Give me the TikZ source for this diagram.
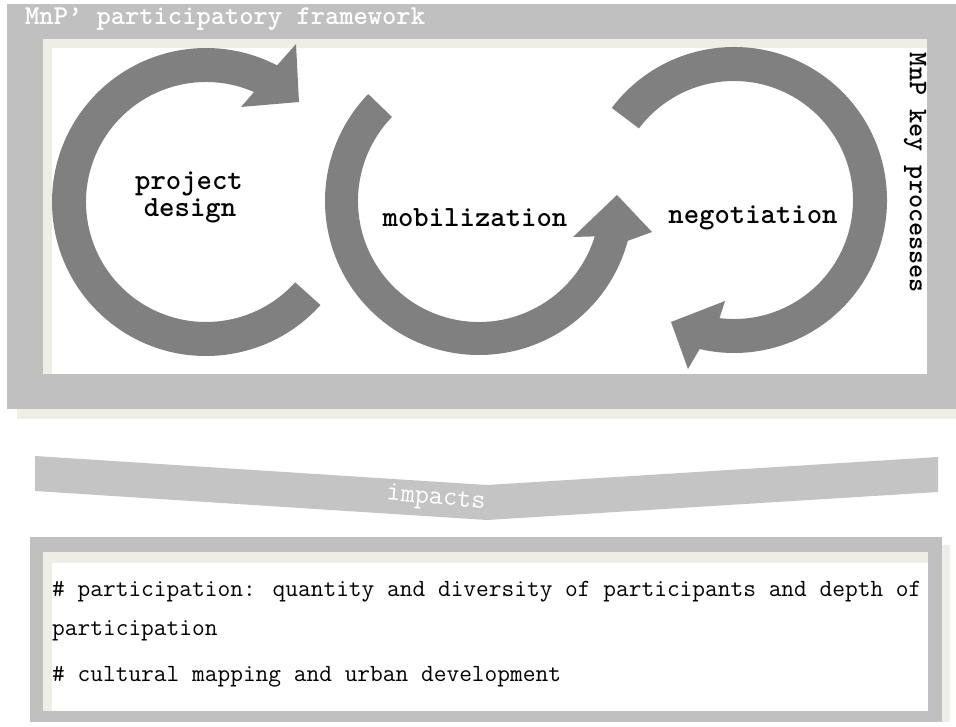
\documentclass[tikz,border=0pt]{standalone}
\usepackage{fontspec}
\definecolor{framegray}{HTML}{C0C0C0}
\definecolor{ringgray}{HTML}{808080}
\definecolor{beigeband}{HTML}{EEEEE6}
\definecolor{bannergray}{HTML}{C4C4C4}
\begin{document}
\begin{tikzpicture}[x=1pt,y=-1pt,
  ring/.style={fill=ringgray},
  frame/.style={fill=framegray},
  band/.style={fill=beigeband},
  lbl/.style={font=\ttfamily\bfseries\fontsize{29.3}{32}\selectfont, inner sep=0pt, anchor=base},
  ttl/.style={font=\ttfamily\bfseries\fontsize{27.2}{30}\selectfont, text=white, inner sep=0pt, anchor=base west},
  vlbl/.style={font=\ttfamily\bfseries\fontsize{26.9}{30}\selectfont, inner sep=0pt, rotate=-90},
  imp/.style={font=\ttfamily\fontsize{27.5}{30}\selectfont, text=white, inner sep=0pt, rotate=-5},
  body/.style={font=\ttfamily\fontsize{24.7}{27}\selectfont, inner sep=0pt, anchor=base west}]
\useasboundingbox (0,0) rectangle (956,727);
\fill[white] (0,0) rectangle (956,727);
% top frame
\fill[band] (17,409) rectangle (956,419);
\fill[frame] (7,4) rectangle (956,409);
\fill[band] (43,39) rectangle (927,374);
\fill[white] (52,48) rectangle (927,374);
% ring 1
\begin{scope}[shift={(206,202)}]
\fill[ring] (42:154) arc[start angle=42,end angle=297.5,radius=154]
  -- (90,-158) -- (93,-100) -- (35,-95)
  -- (293.6:120) arc[start angle=293.6,end angle=42,radius=120] -- cycle;
\end{scope}
% ring 2
\begin{scope}[shift={(479,201)}]
\fill[ring] (224:154) arc[start angle=224,end angle=15,radius=154]
  -- (173,31) -- (138,-6) -- (94,36)
  -- (17:121) arc[start angle=17,end angle=224,radius=121] -- cycle;
\end{scope}
% ring 3
\begin{scope}[shift={(734,200)}]
\fill[ring] (217:153) arc[start angle=217,end angle=463,radius=153]
  -- (-46,169) -- (-63,122) -- (-9,101)
  -- (457:119) arc[start angle=457,end angle=217,radius=119] -- cycle;
\end{scope}
% texts top
\node[ttl] (title) at (25,25) {MnP’ participatory framework};
\node[lbl] (pd1) at (189,190) {project};
\node[lbl] (pd2) at (190,217) {design};
\node[lbl] (mob) at (475,227) {mobilization};
\node[lbl] (neg) at (753,224) {negotiation};
\node[vlbl] (keyproc) at (915,173) {MnP key processes};
% banner
\fill[bannergray] (35,456) -- (487,485) -- (938,457) -- (938,492) -- (487,520) -- (35,491) -- cycle;
\node[imp] (impacts) at (436,499) {impacts};
% bottom box
\fill[band] (942,545) rectangle (950,722);
\fill[frame] (30,537) rectangle (942,722);
\fill[band] (43,552) rectangle (928,711);
\fill[white] (52,563) rectangle (928,711);
\node[body] (b1) at (52,596) {\# participation: quantity and diversity of participants and depth of};
\node[body] (b2) at (52,635) {participation};
\node[body] (b3) at (52,681) {\# cultural mapping and urban development};
\end{tikzpicture}
\end{document}
